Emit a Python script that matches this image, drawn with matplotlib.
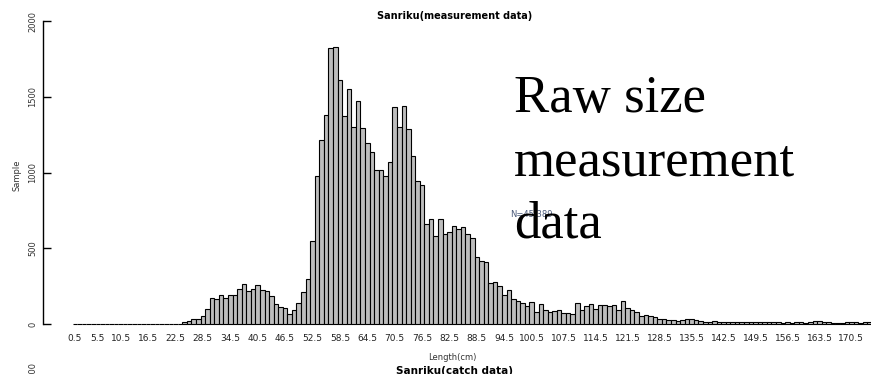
import numpy as np
import matplotlib.pyplot as plt

# length classes (cm), one bar per 1 cm class
lengths = np.arange(0.5, 175.0, 1.0)

counts = [0] * 24 + [
    10, 20, 30, 35, 50, 97, 174, 168, 194, 174,
    194, 194, 229, 262, 220, 229, 256, 224, 216, 183,
    130, 112, 106, 68, 90, 138, 213, 300, 546, 977,
    1217, 1380, 1824, 1831, 1611, 1373, 1549, 1303, 1474, 1294,
    1193, 1138, 1015, 1015, 975, 1070, 1435, 1303, 1441, 1290,
    1111, 946, 920, 658, 693, 583, 693, 596, 605, 645,
    625, 637, 595, 570, 444, 419, 409, 268, 274, 250,
    189, 224, 163, 152, 137, 119, 143, 82, 129, 90,
    81, 84, 90, 74, 74, 67, 138, 90, 119, 131,
    101, 124, 124, 119, 124, 95, 151, 105, 91, 80,
    54, 60,
    50, 44, 36, 30, 26, 24, 22, 24, 30, 32,
    26, 22, 14, 14, 18, 12, 16, 14, 12, 16,
    12, 10, 10, 12, 12, 16, 16, 12, 12, 8,
    12, 8, 10, 12, 8, 12, 18, 18, 10, 12,
    8, 8, 8, 10, 12, 16, 8, 12, 16,
]

# class labels that R managed to print under the bars
tick_lengths = [0.5, 5.5, 10.5, 16.5, 22.5, 28.5, 34.5, 40.5, 46.5, 52.5,
                58.5, 64.5, 70.5, 76.5, 82.5, 88.5, 94.5, 100.5, 107.5, 114.5,
                121.5, 128.5, 135.5, 142.5, 149.5, 156.5, 163.5, 170.5]
y_ticks = [0, 500, 1000, 1500, 2000]

W, H = 871, 374


def px(x, y):
    # pixel position -> figure fraction
    return x / W, 1 - y / H


fig = plt.figure(figsize=(W / 100, H / 100), dpi=100)
ax = fig.add_axes([43 / W, (H - 324) / H, (W - 43) / W, (324 - 21) / H])

pos = np.arange(len(lengths))
ax.bar(pos, counts, width=1.0, color='#bdbdbd', edgecolor='black',
       linewidth=0.8, clip_on=False)

ax.set_xlim(-7.0, 174.3)
ax.set_ylim(0, 2000)

for s in ['top', 'right', 'bottom']:
    ax.spines[s].set_visible(False)
ax.spines['left'].set_bounds(0, 2000)
ax.spines['left'].set_linewidth(1.0)

ax.set_xticks([np.searchsorted(lengths, v) for v in tick_lengths])
ax.set_xticklabels([f"{v}" for v in tick_lengths])
ax.tick_params(axis='x', length=0, labelsize=6.5, pad=7, labelcolor='#222222')

ax.set_yticks(y_ticks)
ax.set_yticklabels([str(v) for v in y_ticks], rotation=90, va='center')
ax.tick_params(axis='y', direction='in', length=6, width=1.0, labelsize=6,
               pad=4, labelcolor='#333333')

# titles and labels
fig.text(*px(455, 16), "Sanriku(measurement data)", fontsize=7, fontweight='bold',
         ha='center', va='center')
fig.text(*px(17, 175), "Sample", fontsize=6, rotation=90, ha='center', va='center',
         color='#333333')
fig.text(*px(452, 357), "Length(cm)", fontsize=6, ha='center', va='center',
         color='#333333')
fig.text(*px(455, 366), "Sanriku(catch data)", fontsize=7.5, fontweight='bold',
         ha='center', va='top')
fig.text(*px(33, 362), "2000", fontsize=6, rotation=90, ha='center', va='top',
         color='#333333')

fig.text(*px(510, 215), "N=45,389", fontsize=6, ha='left', va='center',
         color='#4a5a7a')

# overlay note
for line, base in [("Raw size", 112), ("measurement", 175), ("data", 237)]:
    fig.text(*px(514, base), line, fontsize=38, family='Liberation Serif',
             ha='left', va='baseline')

fig.savefig('out.png', dpi=100)
